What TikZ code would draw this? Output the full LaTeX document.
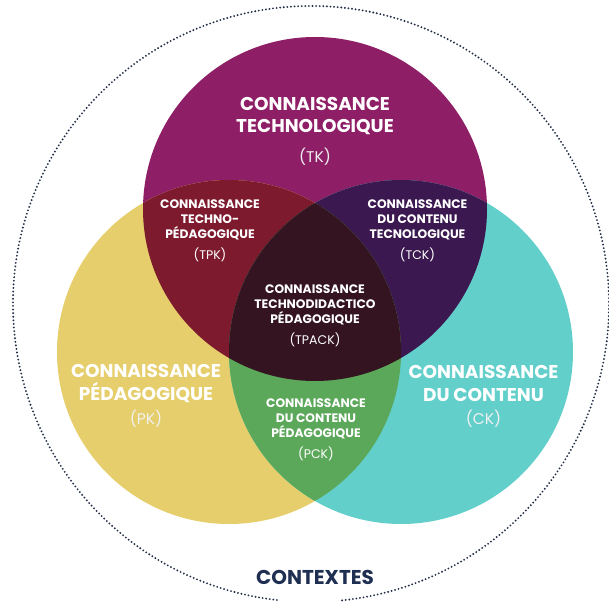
\documentclass[tikz,border=0pt]{standalone}
\usepackage{fontspec}
\setmainfont{Poppins}
\definecolor{tkcol}{HTML}{8E1E66}
\definecolor{pkcol}{HTML}{E5CE6B}
\definecolor{ckcol}{HTML}{63CFCB}
\definecolor{tpkcol}{HTML}{7D1A2E}
\definecolor{tckcol}{HTML}{3B1850}
\definecolor{pckcol}{HTML}{5CA85A}
\definecolor{tpackcol}{HTML}{331420}
\definecolor{navy}{HTML}{1F2F52}
\definecolor{dotcol}{HTML}{243048}
\tikzset{
  bigtitle/.style={text=white, align=center, inner sep=0pt, font=\fontsize{18.5}{22.5}\selectfont\bfseries},
  bigabbr/.style={text=white!94!black, inner sep=0pt, font=\fontsize{15.5}{18}\selectfont},
  smalltitle/.style={text=white, align=center, inner sep=0pt, font=\fontsize{12.3}{15.2}\selectfont\bfseries},
  smallabbr/.style={text=white, inner sep=0pt, font=\fontsize{12.5}{14}\selectfont},
  dotring/.style={draw=dotcol, line width=2.1pt, line cap=round, dash pattern=on 0pt off 3.6pt}
}
\begin{document}
\begin{tikzpicture}[x=1pt,y=1pt]
\useasboundingbox (0,0) rectangle (609,611);
\coordinate (ctk) at (315,402);
\coordinate (cpk) at (229,259);
\coordinate (cck) at (401,259);
\coordinate (cout) at (311,307);
% outer dotted ring with a gap at the bottom
\draw[dotring] ([shift={(276:298)}]cout) arc[start angle=276, end angle=624, radius=298];
% circles
\fill[tkcol] (ctk) circle[radius=172];
\fill[pkcol] (cpk) circle[radius=172];
\fill[ckcol] (cck) circle[radius=172];
% pairwise intersections
\begin{scope}
  \clip (ctk) circle[radius=172];
  \fill[tpkcol] (cpk) circle[radius=172];
  \fill[tckcol] (cck) circle[radius=172];
\end{scope}
\begin{scope}
  \clip (cpk) circle[radius=172];
  \fill[pckcol] (cck) circle[radius=172];
\end{scope}
\begin{scope}
  \clip (ctk) circle[radius=172];
  \clip (cpk) circle[radius=172];
  \fill[tpackcol] (cck) circle[radius=172];
\end{scope}
% labels
\node[bigtitle] (tk) at (315,495) {CONNAISSANCE\\TECHNOLOGIQUE};
\node[bigabbr] (tkab) at (315,454.5) {(TK)};
\node[smalltitle] (tpk) at (210,391) {CONNAISSANCE\\TECHNO-\\PÉDAGOGIQUE};
\node[smallabbr] (tpkab) at (210,356) {(TPK)};
\node[smalltitle] (tck) at (417.5,391) {CONNAISSANCE\\DU CONTENU\\TECNOLOGIQUE};
\node[smallabbr] (tckab) at (417.5,356) {(TCK)};
\node[smalltitle] (tpack) at (315,306) {CONNAISSANCE\\TECHNODIDACTICO\\PÉDAGOGIQUE};
\node[smallabbr] (tpackab) at (315,271) {(TPACK)};
\node[bigtitle] (pk) at (146,227.5) {CONNAISSANCE\\PÉDAGOGIQUE};
\node[bigabbr] (pkab) at (146,192.4) {(PK)};
\node[bigtitle] (ck) at (483.5,227.5) {CONNAISSANCE\\DU CONTENU};
\node[bigabbr] (ckab) at (483.5,192.4) {(CK)};
\node[smalltitle] (pck) at (316,192) {CONNAISSANCE\\DU CONTENU\\PÉDAGOGIQUE};
\node[smallabbr] (pckab) at (316,157.4) {(PCK)};
\node[text=navy, inner sep=0pt, font=\fontsize{20}{24}\selectfont\bfseries] (ctx) at (315,33.5) {CONTEXTES};
\end{tikzpicture}
\end{document}
